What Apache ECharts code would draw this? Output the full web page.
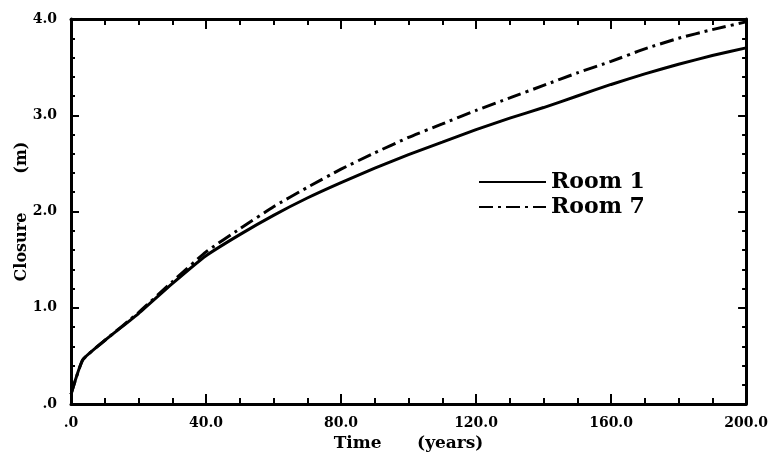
<!DOCTYPE html>
<html>
<head>
<meta charset="utf-8">
<script src="https://cdn.jsdelivr.net/npm/echarts@6/dist/echarts.min.js"></script>
<style>
  html, body { margin: 0; padding: 0; background: #fff; }
  #chart { width: 771px; height: 457px; }
</style>
</head>
<body>
<div id="chart"></div>
<script>
// Time in years
const years = [0, 3.5, 10, 20, 30, 40, 50, 60, 70, 80, 90, 100, 110, 120, 130, 140, 150, 160, 170, 180, 190, 200];
// Closure in metres
const room1 = [0.10, 0.46, 0.66, 0.94, 1.25, 1.54, 1.76, 1.96, 2.14, 2.30, 2.45, 2.59, 2.72, 2.85, 2.97, 3.08, 3.20, 3.32, 3.43, 3.53, 3.62, 3.70];
const room7 = [0.10, 0.46, 0.66, 0.95, 1.27, 1.58, 1.82, 2.05, 2.25, 2.44, 2.61, 2.77, 2.91, 3.05, 3.18, 3.31, 3.44, 3.56, 3.69, 3.80, 3.89, 3.97];
const xTicks = { min: 0, max: 200, step: 40 };
const yTicks = { min: 0, max: 4, step: 1 };

const FONT = 'DejaVu Serif';
const INK = '#000';

const pairs = (ys) => years.map((t, i) => [t, ys[i]]);

const fmt = (v) => (v === 0 ? '.0' : v.toFixed(1));

// frame lines stay at the plot edges instead of snapping to zero
const axisLine = { show: true, onZero: false, lineStyle: { color: INK, width: 3 } };

const xTick = { inside: true, length: 10, lineStyle: { color: INK, width: 2 } };
const xMinor = { show: true, splitNumber: 4, length: 6, lineStyle: { color: INK, width: 2 } };
const yTick = { inside: true, length: 8, lineStyle: { color: INK, width: 2 } };
const yMinor = { show: true, splitNumber: 5, length: 4, lineStyle: { color: INK, width: 2 } };

const chart = echarts.init(document.getElementById('chart'), null, { renderer: 'canvas' });
chart.setOption({
  backgroundColor: '#fff',
  animation: false,
  grid: { left: 71, right: 24, top: 19, bottom: 51, containLabel: false },
  legend: {
    left: 478, top: 171, orient: 'vertical', padding: 0,
    itemWidth: 67, itemHeight: 14, itemGap: 3,
    data: ['Room 1', 'Room 7'],
    itemStyle: { color: 'transparent', borderWidth: 0 },
    textStyle: { fontFamily: FONT, fontWeight: 'bold', fontSize: 22, color: INK }
  },
  xAxis: [{
    type: 'value', min: xTicks.min, max: xTicks.max, interval: xTicks.step,
    position: 'bottom',
    name: 'Time      (years)', nameLocation: 'middle', nameGap: 31,
    nameTextStyle: { fontFamily: FONT, fontWeight: 'bold', fontSize: 17, color: INK },
    axisLine, axisTick: xTick, minorTick: xMinor,
    axisLabel: { formatter: fmt, margin: 12, fontFamily: FONT, fontWeight: 'bold', fontSize: 14, color: INK },
    splitLine: { show: false }
  }, {
    type: 'value', min: xTicks.min, max: xTicks.max, interval: xTicks.step,
    position: 'top',
    axisLine, axisTick: xTick, minorTick: xMinor,
    axisLabel: { show: false },
    splitLine: { show: false }
  }],
  yAxis: [{
    type: 'value', min: yTicks.min, max: yTicks.max, interval: yTicks.step,
    position: 'left',
    name: 'Closure       (m)', nameLocation: 'middle', nameGap: 41, nameRotate: 90,
    nameMoveOverlap: false,
    nameTextStyle: { fontFamily: FONT, fontWeight: 'bold', fontSize: 16, color: INK },
    axisLine, axisTick: yTick, minorTick: yMinor,
    axisLabel: { formatter: fmt, margin: 14, fontFamily: FONT, fontWeight: 'bold', fontSize: 14, color: INK },
    splitLine: { show: false }
  }, {
    type: 'value', min: yTicks.min, max: yTicks.max, interval: yTicks.step,
    position: 'right',
    axisLine, axisTick: yTick, minorTick: yMinor,
    axisLabel: { show: false },
    splitLine: { show: false }
  }],
  series: [{
    name: 'Room 1', type: 'line', data: pairs(room1),
    symbol: 'none', smooth: 0.15,
    lineStyle: { color: INK, width: 3, type: 'solid' },
    itemStyle: { color: INK }
  }, {
    name: 'Room 7', type: 'line', data: pairs(room7),
    symbol: 'none', smooth: 0.15,
    lineStyle: { color: INK, width: 3, type: [14, 5, 3, 5] },
    itemStyle: { color: INK }
  }]
});
</script>
</body>
</html>
